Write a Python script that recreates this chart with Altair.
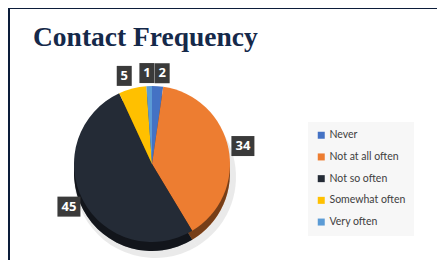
import altair as alt
import pandas as pd

categories = ["Never", "Not at all often", "Not so often", "Somewhat often", "Very often"]
values = [2, 34, 45, 5, 1]
order = [0, 1, 2, 3, 4]
top_colors = ["#4472C4", "#ED7D31", "#242B36", "#FFC000", "#5B9BD5"]
title_text = "Contact Frequency"

df = pd.DataFrame({"category": categories, "value": values, "idx": order})

# layout (view pixel coordinates)
CX, CY, R = 142, 155, 78
DEPTH = 9
RL = R + 3

cscale = alt.Scale(domain=categories, range=top_colors)
base = alt.Chart(df)

legend = alt.Legend(
    orient="none", legendX=298, legendY=113, title=None,
    fillColor="#F7F7F7", padding=8,
    symbolType="square", symbolSize=49, symbolStrokeWidth=0,
    labelFont="Lato", labelFontSize=10.5, labelColor="#404040",
    rowPadding=10.7, labelOffset=3,
)

shadow = base.mark_arc(outerRadius=R + 3, color="#d8d8d8", opacity=0.55).encode(
    theta=alt.Theta("value:Q", stack=True),
    order=alt.Order("idx:Q"),
    x=alt.value(CX + 3), y=alt.value(CY + DEPTH + 4),
)

side = base.mark_arc(outerRadius=R).encode(
    theta=alt.Theta("value:Q", stack=True),
    order=alt.Order("idx:Q"),
    color=alt.Color("category:N", scale=cscale, legend=legend),
    x=alt.value(CX), y=alt.value(CY + DEPTH),
)
side_dark = base.mark_arc(outerRadius=R, color="black", opacity=0.5).encode(
    theta=alt.Theta("value:Q", stack=True),
    order=alt.Order("idx:Q"),
    x=alt.value(CX), y=alt.value(CY + DEPTH),
)

top = base.mark_arc(outerRadius=R).encode(
    theta=alt.Theta("value:Q", stack=True),
    order=alt.Order("idx:Q"),
    color=alt.Color("category:N", scale=cscale, legend=legend),
    x=alt.value(CX), y=alt.value(CY),
)

lab = base.transform_window(
    cum="sum(value)", sort=[alt.SortField("idx")]
).transform_joinaggregate(
    total="sum(value)"
).transform_calculate(
    a="2*PI*(datum.cum - datum.value/2)/datum.total",
    w="length(toString(datum.value)) == 1 ? 15 : 23",
).transform_calculate(
    px=f"{CX} + {RL}*sin(datum.a)",
    py=f"{CY} - {RL}*cos(datum.a)",
).transform_calculate(
    bx="datum.px + datum.w/2*clamp(sin(datum.a)*8, -1, 1)",
    by="datum.py - 10*cos(datum.a)",
).transform_calculate(
    x1="datum.bx - datum.w/2", x2="datum.bx + datum.w/2",
    y1="datum.by - 10", y2="datum.by + 10",
)

boxes = lab.mark_rect(color="#3A3A3A").encode(
    x=alt.X("x1:Q", scale=None), x2="x2:Q",
    y=alt.Y("y1:Q", scale=None), y2="y2:Q",
)

texts = lab.mark_text(color="white", fontWeight="bold", fontSize=13,
                      font="Open Sans", baseline="middle", align="center").encode(
    x=alt.X("bx:Q", scale=None), y=alt.Y("by:Q", scale=None), text="value:Q",
)

title = alt.Chart(pd.DataFrame({"t": [title_text]})).mark_text(
    font="Liberation Serif", fontWeight="bold", fontSize=27.5, color="#15294A",
    align="left", baseline="alphabetic",
).encode(text="t:N", x=alt.value(23), y=alt.value(37))

# dark frame strips along the top and left edges (decoration)
frame = pd.DataFrame({"k": [0]})
frame_top = alt.Chart(frame).mark_rect(color="#0C1D3A", clip=False).encode(
    x=alt.value(-2), x2=alt.value(427), y=alt.value(-1), y2=alt.value(0))
frame_left = alt.Chart(frame).mark_rect(color="#0C1D3A", clip=False).encode(
    x=alt.value(-2), x2=alt.value(0), y=alt.value(-1), y2=alt.value(251))

chart = alt.layer(frame_top, frame_left, shadow, side, side_dark, top, boxes, texts, title).properties(
    width=427, height=251,
    padding={"left": 2, "top": 1, "right": 0, "bottom": 0},
    autosize=alt.AutoSizeParams(type="none"),
    background="white",
).configure_view(
    fill="white", stroke="transparent", strokeWidth=0,
)

chart.save("out.html", embed_options={"renderer": "svg", "actions": False})
